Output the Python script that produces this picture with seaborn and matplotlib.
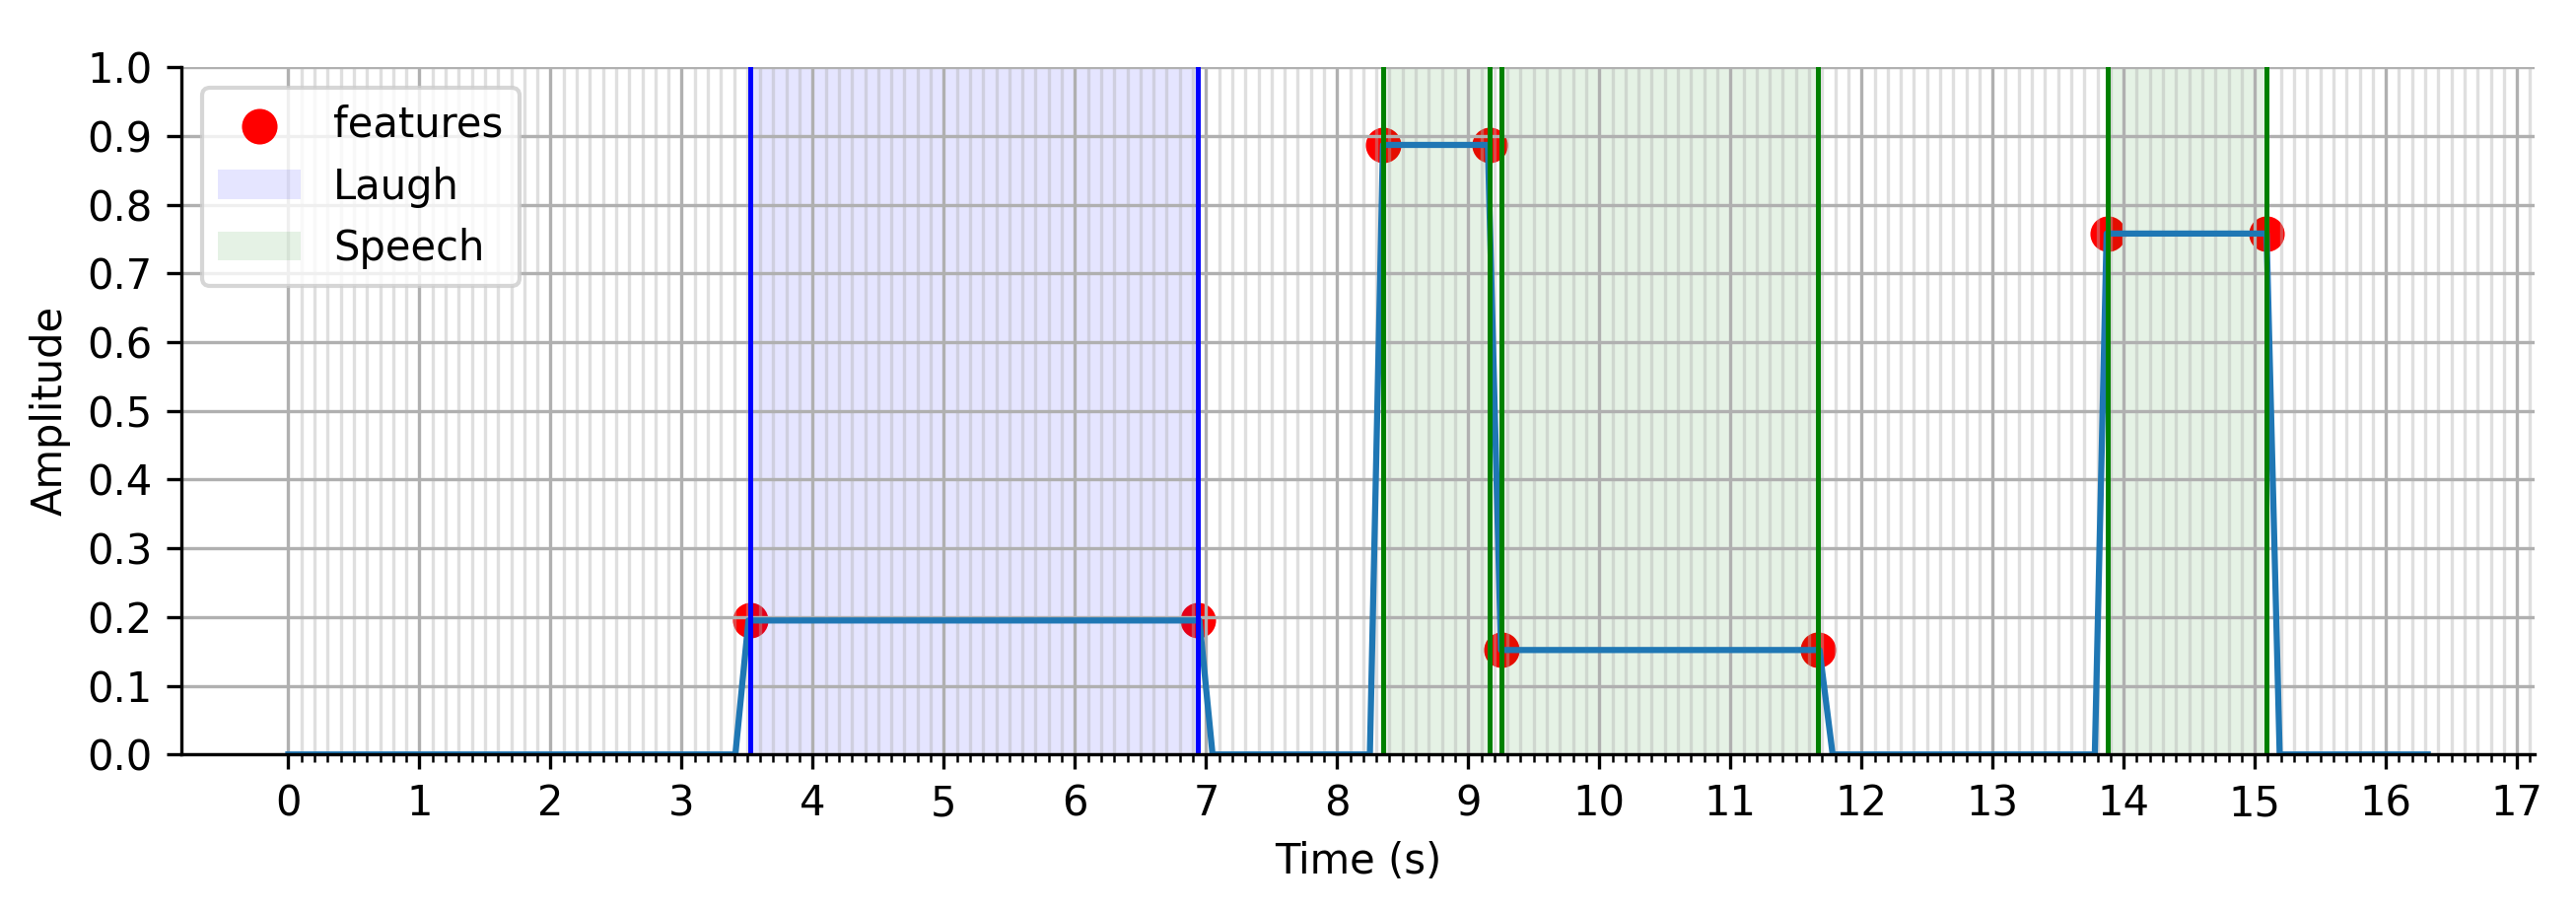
import numpy as np
import matplotlib
matplotlib.use('Agg')
import matplotlib.pyplot as plt
import seaborn as sns

# ── DATA ──────────────────────────────────────────────────────────────
# amplitude envelope (breakpoints)
line_t = [0.0, 3.41, 3.51, 6.95, 7.05, 8.25, 8.35, 9.15, 9.25,
          11.68, 11.78, 13.78, 13.87, 15.09, 15.19, 16.32]
line_y = [0.0, 0.0, 0.195, 0.195, 0.0, 0.0, 0.887, 0.887, 0.152,
          0.152, 0.0, 0.0, 0.758, 0.758, 0.0, 0.0]

# feature points
feat_t = [3.52, 6.94, 8.35, 9.16, 9.25, 11.67, 13.88, 15.09]
feat_y = [0.195, 0.195, 0.887, 0.887, 0.152, 0.152, 0.758, 0.758]

# labelled segments
laugh_segs  = [(3.52, 6.94)]
speech_segs = [(8.35, 9.16), (9.25, 11.67), (13.88, 15.09)]

x_major = list(range(0, 18))
y_major = [round(0.1 * i, 1) for i in range(11)]

# ── PLOT ──────────────────────────────────────────────────────────────
fig, ax = plt.subplots(figsize=(2613 / 300, 922 / 300), dpi=300)
fig.subplots_adjust(left=0.0704, right=0.984, bottom=0.170, top=0.926)

sns.scatterplot(x=feat_t, y=feat_y, color='red', s=75, linewidth=0,
                ax=ax, label='features', legend=False)
sns.lineplot(x=line_t, y=line_y, color='#1f77b4', linewidth=1.5,
             ax=ax, legend=False, sort=False)

handles = [ax.collections[0]]
for i, (a, b) in enumerate(laugh_segs):
    p = ax.axvspan(a, b, color='blue', alpha=0.1, lw=0)
    ax.axvline(a, color='blue', lw=1.2)
    ax.axvline(b, color='blue', lw=1.2)
    if i == 0:
        handles.append(p)
for i, (a, b) in enumerate(speech_segs):
    p = ax.axvspan(a, b, color='green', alpha=0.1, lw=0)
    ax.axvline(a, color='green', lw=1.2)
    ax.axvline(b, color='green', lw=1.2)
    if i == 0:
        handles.append(p)

rng = line_t[-1] - line_t[0]
ax.set_xlim(line_t[0] - 0.05 * rng, line_t[-1] + 0.05 * rng)
ax.set_ylim(0, 1)
ax.set_xticks(x_major)
ax.set_xticks(np.arange(0, 17.15, 0.1), minor=True)
ax.set_yticks(y_major)
ax.set_yticklabels([f"{v:.1f}" for v in y_major])

ax.grid(which='major', color='#b0b0b0', lw=0.8)
ax.grid(which='minor', axis='x', color='#b0b0b0', lw=0.8, alpha=0.4)
ax.set_axisbelow('line')

sns.despine(ax=ax)
ax.set_xlabel("Time (s)", fontsize=10)
ax.set_ylabel("Amplitude", fontsize=10)
ax.tick_params(labelsize=10)

ax.legend(handles=handles, labels=['features', 'Laugh', 'Speech'],
          loc='upper left', fontsize=10)

fig.savefig("out.png", dpi=300)
